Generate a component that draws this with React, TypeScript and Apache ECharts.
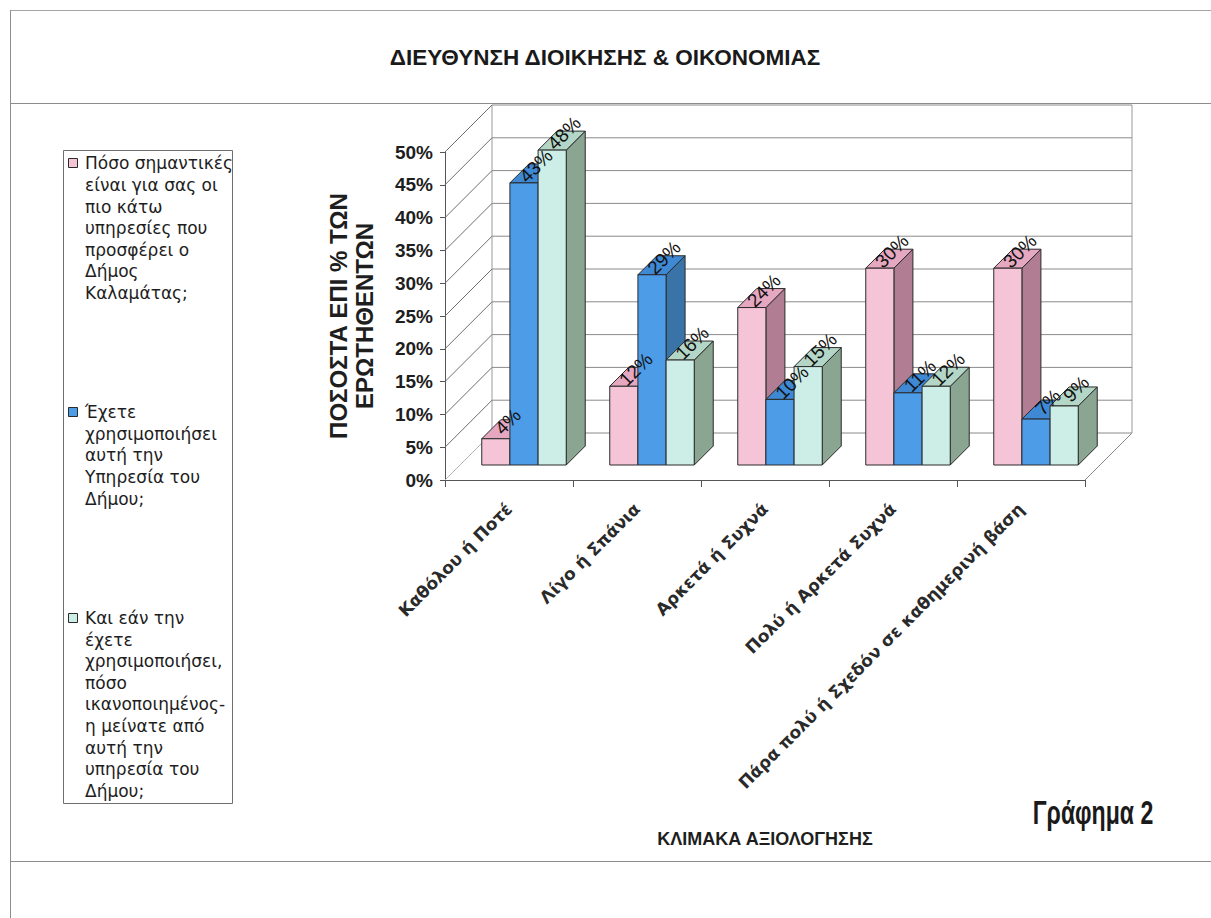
import React, { useEffect, useRef } from "react";
import * as echarts from "echarts";

// Rating scale (x axis)
const categories = [
  "Καθόλου ή Ποτέ",
  "Λίγο ή Σπάνια",
  "Αρκετά ή Συχνά",
  "Πολύ ή Αρκετά Συχνά",
  "Πάρα πολύ ή Σχεδόν σε καθημερινή βάση",
];

// Percent of respondents per question
const importanceValues = [4, 12, 24, 30, 30];
const usageValues = [43, 29, 10, 11, 7];
const satisfactionValues = [48, 16, 15, 12, 9];

// Value-axis ticks (percent)
const yTicks = [0, 5, 10, 15, 20, 25, 30, 35, 40, 45, 50];

const seriesNames = [
  "Πόσο σημαντικές είναι για σας οι πιο κάτω υπηρεσίες που προσφέρει ο Δήμος Καλαμάτας;",
  "Έχετε χρησιμοποιήσει αυτή την Υπηρεσία του Δήμου;",
  "Και εάν την έχετε χρησιμοποιήσει, πόσο ικανοποιημένος-η μείνατε από αυτή την υπηρεσία του Δήμου;",
];

// Wrapped legend text, one array per question
const legendLines = [
  ["Πόσο σημαντικές", "είναι για σας οι", "πιο κάτω", "υπηρεσίες που", "προσφέρει ο", "Δήμος", "Καλαμάτας;"],
  ["Έχετε", "χρησιμοποιήσει", "αυτή την", "Υπηρεσία του", "Δήμου;"],
  ["Και εάν την", "έχετε", "χρησιμοποιήσει,", "πόσο", "ικανοποιημένος-", "η μείνατε από", "αυτή την", "υπηρεσία του", "Δήμου;"],
];

const TITLE = "ΔΙΕΥΘΥΝΣΗ ΔΙΟΙΚΗΣΗΣ & ΟΙΚΟΝΟΜΙΑΣ";
const Y_NAME = "ΠΟΣΟΣΤΑ ΕΠΙ % ΤΩΝ\nΕΡΩΤΗΘΕΝΤΩΝ";
const X_NAME = "ΚΛΙΜΑΚΑ ΑΞΙΟΛΟΓΗΣΗΣ";
const BADGE = "Γράφημα 2";

// Face colours for each series: front, top, side
const palette = [
  { front: "#f6c4d7", top: "#e6a7c0", side: "#b07d93" },
  { front: "#4c9ce8", top: "#3f88d4", side: "#3a73a8" },
  { front: "#cdeee6", top: "#b3d6c6", side: "#8aa592" },
];

// 3D projection constants (pixels)
const WALL_DEPTH = 47;
const BAR_SHIFT = 15;
const BAR_DEPTH = 19;
const BAR_FRAC = 0.22;

const SANS = "'Liberation Sans', Arial, Helvetica, sans-serif";
const WIDE = "'DejaVu Sans', Verdana, sans-serif";
const EDGE = "#2b2b2b";

function makeBarRenderer(seriesIdx: number) {
  return (params: any, api: any) => {
    const ci = api.value(0);
    const v = api.value(1);
    const base = api.coord([ci, 0]);
    const topP = api.coord([ci, v]);
    const band = api.size([1, 0])[0];
    const w = band * BAR_FRAC;
    const x0 = base[0] + BAR_SHIFT + (seriesIdx - 1.5) * w;
    const x1 = x0 + w;
    const yb = base[1] - BAR_SHIFT;
    const yt = topP[1] - BAR_SHIFT;
    const d = BAR_DEPTH;
    const c = palette[seriesIdx];
    const stroke = { stroke: EDGE, lineWidth: 1 };
    return {
      type: "group",
      children: [
        {
          type: "polygon",
          shape: { points: [[x1, yb], [x1 + d, yb - d], [x1 + d, yt - d], [x1, yt]] },
          style: { fill: c.side, ...stroke },
        },
        {
          type: "polygon",
          shape: { points: [[x0, yt], [x1, yt], [x1 + d, yt - d], [x0 + d, yt - d]] },
          style: { fill: c.top, ...stroke },
        },
        {
          type: "rect",
          shape: { x: x0, y: yt, width: w, height: yb - yt },
          style: { fill: c.front, ...stroke },
        },
        {
          type: "text",
          x: x0 + w / 2 + 12,
          y: yt - 17,
          rotation: Math.PI / 4,
          z2: 50,
          style: {
            text: v + "%",
            align: "center",
            verticalAlign: "middle",
            fill: "#111",
            font: `19px ${SANS}`,
          },
        },
      ],
    };
  };
}

// Back wall, left wall and floor with their grid lines
function renderWalls(params: any, api: any) {
  const v = api.value(1);
  const n = categories.length;
  const band = api.size([1, 0])[0];
  const left = api.coord([0, 0])[0] - band / 2;
  const right = api.coord([n - 1, 0])[0] + band / 2;
  const y = api.coord([0, v])[1];
  const yTop = api.coord([0, yTicks[yTicks.length - 1]])[1];
  const D = WALL_DEPTH;
  const grid = { stroke: "#8a8a8a", lineWidth: 1 };
  const children: any[] = [
    { type: "line", shape: { x1: left, y1: y, x2: left + D, y2: y - D }, style: { ...grid, stroke: v === 0 ? "#b5b5b5" : "#6e6e6e" } },
    { type: "line", shape: { x1: left + D, y1: y - D, x2: right + D, y2: y - D }, style: grid },
  ];
  if (v === 0) {
    children.push(
      { type: "line", shape: { x1: right, y1: y, x2: right + D, y2: y - D }, style: grid },
      { type: "line", shape: { x1: left + D, y1: y - D, x2: left + D, y2: yTop - D }, style: { ...grid, stroke: "#9a9a9a" } },
      { type: "line", shape: { x1: right + D, y1: y - D, x2: right + D, y2: yTop - D }, style: { ...grid, stroke: "#9a9a9a" } }
    );
  }
  return { type: "group", children };
}

// Legend box: entries spread from the top edge to the bottom edge
function buildLegend(): any[] {
  const boxTop = 150.5;
  const boxHeight = 653;
  const lh = 21.6;
  const pad = 2;
  const els: any[] = [
    {
      type: "rect",
      shape: { x: 63.5, y: boxTop, width: 169, height: boxHeight },
      style: { fill: "#fff", stroke: "#6f6f6f", lineWidth: 1 },
    },
  ];
  const totalLines = legendLines.reduce((s, l) => s + l.length, 0);
  const gap = (boxHeight - 2 * pad - totalLines * lh) / (legendLines.length - 1);
  let y = boxTop + pad + lh / 2;
  legendLines.forEach((lines, i) => {
    els.push({
      type: "rect",
      shape: { x: 68.5, y: Math.round(y) - 4.5, width: 9, height: 9 },
      style: { fill: palette[i].front, stroke: EDGE, lineWidth: 1 },
    });
    lines.forEach((t, k) => {
      els.push({
        type: "text",
        x: 85,
        y: y + k * lh,
        style: { text: t, fill: "#1e1e1e", font: `17px ${WIDE}`, verticalAlign: "middle", align: "left" },
      });
    });
    y += lines.length * lh + gap;
  });
  return els;
}

export default function App() {
  const ref = useRef<HTMLDivElement>(null);

  useEffect(() => {
    if (!ref.current) return;
    const chart = echarts.init(ref.current, null, { renderer: "svg" });
    const values = [importanceValues, usageValues, satisfactionValues];

    const frame = "#8d8d8d";
    chart.setOption({
      animation: false,
      backgroundColor: "#ffffff",
      grid: { left: 445, top: 152, width: 640, height: 328, containLabel: false },
      xAxis: {
        type: "category",
        data: categories,
        boundaryGap: true,
        axisLine: { lineStyle: { color: "#555", width: 1 } },
        axisTick: { show: true, length: 7, interval: 0, lineStyle: { color: "#555" } },
        axisLabel: {
          interval: 0,
          rotate: 45,
          margin: 26,
          color: "#2a2a2a",
          fontFamily: WIDE,
          fontWeight: "bold",
          fontSize: 17,
        },
        splitLine: { show: false },
        name: X_NAME,
        nameLocation: "middle",
        nameGap: 350,
        nameTextStyle: { fontFamily: SANS, fontWeight: "bold", fontSize: 18, color: "#1e1e1e" },
      },
      yAxis: {
        type: "value",
        min: 0,
        max: 50,
        interval: 5,
        axisLine: { show: true, lineStyle: { color: "#555", width: 1 } },
        axisTick: { show: true, length: 5, lineStyle: { color: "#555" } },
        axisLabel: {
          formatter: "{value}%",
          margin: 12,
          color: "#1e1e1e",
          fontFamily: SANS,
          fontWeight: "bold",
          fontSize: 19,
        },
        splitLine: { show: false },
        name: Y_NAME,
        nameLocation: "middle",
        nameRotate: 90,
        nameGap: 68,
        nameTextStyle: { fontFamily: SANS, fontWeight: "bold", fontSize: 24, color: "#1e1e1e", lineHeight: 26 },
      },
      series: [
        {
          type: "custom",
          name: "walls",
          z: 1,
          clip: false,
          silent: true,
          renderItem: renderWalls,
          data: yTicks.map((t) => [0, t]),
        },
        ...values.map((vals, si) => ({
          type: "custom",
          name: seriesNames[si],
          z: 2,
          clip: false,
          itemStyle: { color: palette[si].front },
          renderItem: makeBarRenderer(si),
          data: vals.map((v, ci) => [ci, v]),
        })),
      ],
      graphic: [
        { type: "line", shape: { x1: 10, y1: 10.5, x2: 1211, y2: 10.5 }, style: { stroke: "#a5a5a5", lineWidth: 1 } },
        { type: "line", shape: { x1: 10, y1: 103.5, x2: 1211, y2: 103.5 }, style: { stroke: frame, lineWidth: 1 } },
        { type: "line", shape: { x1: 10, y1: 861.5, x2: 1211, y2: 861.5 }, style: { stroke: frame, lineWidth: 1 } },
        { type: "line", shape: { x1: 10.5, y1: 10, x2: 10.5, y2: 918 }, style: { stroke: frame, lineWidth: 1 } },
        {
          type: "text",
          x: 605,
          y: 57,
          style: { text: TITLE, font: `bold 22.5px ${SANS}`, fill: "#1a1a1a", align: "center", verticalAlign: "middle" },
        },
        {
          type: "text",
          x: 1093,
          y: 812,
          scaleX: 0.7,
          style: { text: BADGE, font: `bold 33px ${SANS}`, fill: "#1a1a1a", align: "center", verticalAlign: "middle" },
        },
        ...buildLegend(),
      ],
    });

    return () => chart.dispose();
  }, []);

  return (
    <div
      ref={ref}
      style={{ position: "absolute", left: 0, top: 0, width: 1211, height: 918, background: "#fff" }}
    />
  );
}
